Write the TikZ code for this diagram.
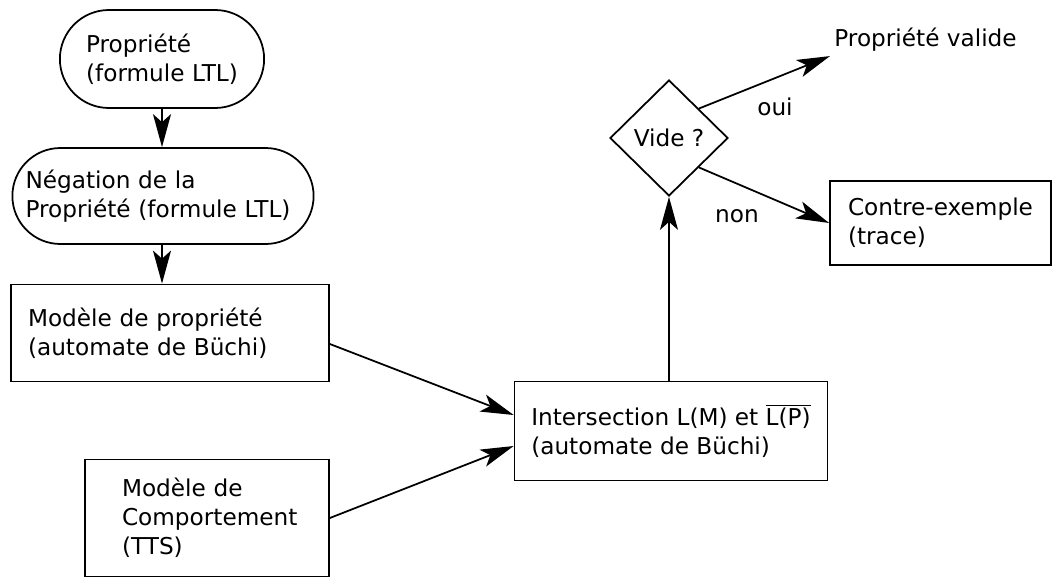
\documentclass[tikz,border=0pt]{standalone}
\usepackage{fontspec}
\setmainfont{DejaVu Sans}
\usetikzlibrary{arrows.meta, shapes.geometric, shapes.misc}

\begin{document}
\begin{tikzpicture}[
  x=0.02cm, y=-0.02cm,
  every node/.style={font=\fontsize{13.2}{16.5}\selectfont, align=left},
  line width=1pt,
  arr/.style={-{Stealth[length=0.66cm, width=0.36cm, inset=0.16cm]}},
  stadium/.style={rounded rectangle, draw},
  box/.style={draw, rectangle},
  choice/.style={diamond, draw, aspect=1, inner sep=1pt}
]
\useasboundingbox (0,0) rectangle (1052,578);

% Left column
\node[stadium, minimum width=4.32cm, minimum height=1.96cm] (prop) at (162,59) {Propriété\\(formule LTL)};
\node[stadium, minimum width=6.26cm, minimum height=1.92cm, text width=5.5cm] (neg) at (163,196) {Négation de la\\Propriété (formule LTL)};
\node[box, minimum width=6.36cm, minimum height=1.94cm, text width=5.68cm] (modele) at (170,333) {Modèle de propriété\\(automate de Büchi)};
\node[box, minimum width=4.88cm, minimum height=2.34cm, text width=3.4cm] (compo) at (207,518) {Modèle de\\Comportement\\(TTS)};

\draw[arr] (prop.south -| 162,0) -- (neg.north -| 162,0);
\draw[arr] (neg.south -| 162,0) -- (modele.north -| 162,0);

% Intersection
\node[box, minimum width=6.26cm, minimum height=1.98cm] (inter) at (671,431) {Intersection L(M) et $\overline{\mbox{L(P)}}$\\(automate de Büchi)};
\draw[arr] ([yshift=-0.22cm]modele.east) -- ([yshift=0.32cm]inter.west);
\draw[arr] (compo.east) -- ([yshift=-0.3cm]inter.west);

% Test
\node[choice, minimum width=2.36cm, minimum height=2.32cm] (vide) at (669,138) {Vide ?};
\draw[arr] (inter.north -| vide.south) -- (vide.south);

% Results
\node[anchor=west, inner sep=2pt] (valide) at (830,40) {Propriété valide};
\node[box, minimum width=4.42cm, minimum height=1.68cm] (contre) at (940.5,223) {Contre-exemple\\(trace)};
\draw[arr] (vide.north east) -- (valide.south west);
\draw[arr] (vide.south east) -- (contre.west);

% Branch labels
\node (oui) at (775,107) {oui};
\node (non) at (737,216) {non};

\end{tikzpicture}
\end{document}
